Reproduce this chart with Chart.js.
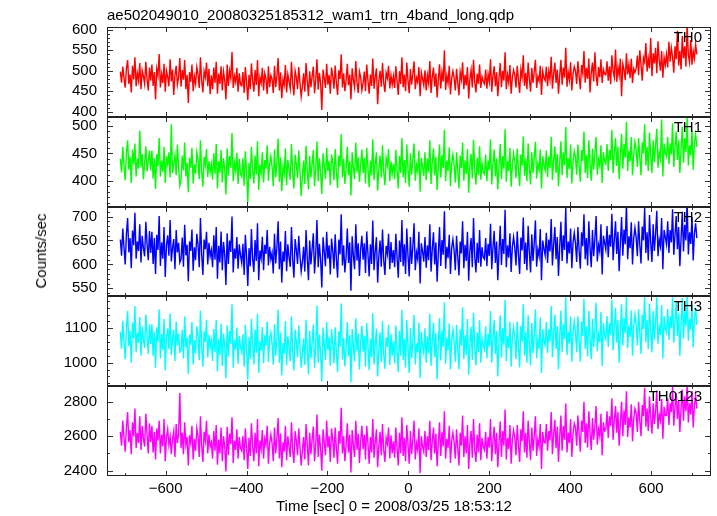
<!DOCTYPE html>
<html><head><meta charset="utf-8">
<script src="https://cdn.jsdelivr.net/npm/chart.js@4.4.0/dist/chart.umd.min.js"></script>
<style>
html,body{margin:0;padding:0;background:#fff;}
#wrap{position:relative;width:717px;height:516px;overflow:hidden;background:#fff;font-family:"Liberation Sans",Arial,sans-serif;color:#000;}
canvas{position:absolute;left:0;}
.txt{position:absolute;font-size:15px;line-height:18px;white-space:nowrap;z-index:5;}
#title{left:107px;top:6px;}
#xlab{left:276px;top:497px;}
#ylab{left:41px;top:251px;transform:translate(-50%,-50%) rotate(-90deg);}
</style></head><body>
<div id="wrap">
<div id="title" class="txt">ae502049010_20080325185312_wam1_trn_4band_long.qdp</div>
<div id="xlab" class="txt">Time [sec] 0 = 2008/03/25 18:53:12</div>
<div id="ylab" class="txt">Counts/sec</div>
</div>
<script>
// ---------------- DATA ----------------
const panelNames = ['TH0', 'TH1', 'TH2', 'TH3', 'TH0123'];
const timeStart = -712;   // first bin (sec)
const timeStep = 3;       // bin spacing (sec)

const th0 = [
498,471,510,482,459,505,526,468,491,447,512,479,533,462,494,476,519,455,501,487,468,522,480,452,508,
476,515,463,497,430,505,488,541,459,492,470,517,449,500,485,462,528,474,503,441,490,512,466,484,531,
461,502,478,526,455,490,421,497,473,515,450,486,468,509,492,458,533,476,447,499,484,520,462,505,443,
489,455,508,470,522,444,493,468,511,452,498,477,430,515,463,500,482,546,458,487,472,507,449,494,466,
463,497,446,509,472,428,490,455,518,476,449,502,465,526,438,484,470,507,452,494,481,443,511,460,489,
480,446,512,460,487,531,452,496,433,479,465,514,447,491,474,456,522,468,440,500,484,455,509,471,437,
462,494,449,519,476,438,499,460,486,510,445,479,528,454,495,470,404,503,482,458,517,466,490,444,508,
488,456,513,470,441,501,480,540,459,494,450,476,517,465,491,430,506,477,459,524,471,446,498,485,452,
469,498,450,515,477,444,491,463,530,456,485,506,418,475,500,461,519,470,448,495,482,512,457,489,466,
487,458,511,474,441,499,468,533,460,491,450,520,477,445,504,466,493,523,455,483,472,509,438,496,480,
464,501,452,490,470,524,446,485,508,461,494,435,479,516,457,497,474,550,453,488,470,512,442,481,499,
483,452,505,471,440,497,478,521,455,490,464,509,432,480,502,459,527,472,447,493,468,515,458,486,474,
468,503,456,492,473,528,449,487,511,462,496,438,482,519,460,500,476,545,455,490,471,514,444,484,502,
490,459,512,478,446,503,484,538,463,495,455,520,480,449,507,470,497,527,458,486,475,512,441,499,483,
476,510,462,499,479,534,456,493,520,470,503,444,488,527,466,508,483,556,461,497,477,521,452,492,510,
500,468,523,486,455,514,494,548,471,507,480,530,447,495,520,474,545,488,463,509,484,528,470,503,492,
490,523,476,511,467,538,499,484,552,473,509,488,530,438,517,503,477,543,491,515,482,529,470,505,496,
505,537,489,550,515,476,532,521,568,498,530,506,580,487,543,518,556,494,572,526,500,548,483,533,514,
540,508,571,522,556,535,495,560,528,598,513,549,503,585,531,560,510,612,538,520,575,515,548,530,565,
540
];
const th1 = [
440,415,462,428,401,451,474,420,444,396,457,430,468,408,441,422,492,425,449,403,433,463,417,436,455,
419,455,404,441,385,449,426,478,408,437,416,462,396,445,430,452,406,503,414,432,447,410,466,424,391,
401,446,419,470,408,433,379,442,424,460,395,430,413,452,437,403,474,417,389,444,428,458,407,436,415,
430,402,450,412,467,386,436,415,456,397,441,421,375,459,409,445,424,487,399,433,418,451,394,440,412,
407,441,391,454,416,360,433,403,462,419,395,446,411,472,383,429,414,452,397,438,422,465,400,431,445,
426,390,457,406,434,477,398,443,381,426,412,459,392,438,421,402,467,414,386,448,430,405,455,418,372,
410,437,394,464,420,384,445,406,430,456,390,423,472,399,441,415,376,450,427,403,460,418,436,392,448,
433,401,458,417,387,446,426,485,406,440,394,421,462,410,436,373,452,424,403,470,415,443,398,429,457,
414,442,395,460,424,388,437,410,476,401,430,452,382,421,446,406,465,416,392,441,428,458,399,435,412,
431,403,456,419,386,445,414,478,406,438,396,466,422,389,450,411,439,468,400,429,417,455,380,442,426,
409,452,401,441,415,474,394,434,459,410,444,383,426,466,406,447,423,493,399,437,418,461,390,431,448,
428,397,452,418,386,446,423,470,400,437,412,458,378,427,449,404,475,419,393,442,410,463,402,433,416,
412,448,399,437,420,476,393,431,457,408,441,384,426,467,403,445,422,494,398,436,417,460,389,430,450,
434,405,459,421,390,448,427,481,409,440,399,468,425,393,452,414,442,471,404,431,420,457,386,445,428,
419,455,407,444,423,480,401,437,463,414,449,390,432,472,410,452,428,498,405,441,421,466,395,435,454,
443,411,466,429,398,456,436,490,414,448,405,474,432,400,459,420,451,480,411,439,427,465,396,452,436,
431,467,418,456,437,493,414,451,478,427,462,403,445,486,422,467,442,508,418,455,435,480,410,449,471,
456,425,478,442,410,470,450,503,428,462,418,488,446,414,474,434,465,495,424,452,440,512,408,468,450,
444,480,430,468,448,505,425,461,490,438,474,414,457,499,433,478,452,516,428,465,446,492,420,470,485,
462
];
const th2 = [
652,618,675,636,600,664,697,625,655,592,671,640,708,612,648,628,684,604,660,634,617,689,643,609,670,
624,668,601,655,580,662,630,701,597,646,612,678,574,640,661,618,693,606,635,653,590,672,625,645,604,
611,656,595,683,619,641,565,648,628,673,587,636,609,664,642,594,697,621,578,652,632,668,600,645,617,
630,594,661,610,678,570,639,604,669,588,647,621,557,665,601,650,626,700,583,633,612,657,591,642,619,
603,643,578,662,617,555,634,596,674,611,584,651,607,686,567,629,613,658,588,641,622,672,598,637,611,
624,581,664,602,636,690,590,648,562,627,606,670,586,642,615,595,678,610,572,653,631,601,660,618,585,
605,637,585,672,614,567,650,600,632,665,581,623,693,594,643,610,552,657,627,596,668,612,640,579,654,
629,591,663,611,572,652,621,705,598,640,583,616,675,603,646,545,659,619,590,684,608,644,576,632,660,
610,644,582,669,623,575,642,601,692,588,628,657,562,618,650,595,673,609,578,639,622,664,590,647,603,
630,594,664,615,572,650,605,693,596,642,580,675,619,575,657,601,638,686,588,625,611,668,560,644,627,
606,657,593,640,609,684,585,632,667,600,646,564,624,678,597,651,620,711,591,637,613,662,580,634,652,
629,588,660,617,577,648,623,690,592,641,607,668,566,628,655,594,697,616,583,645,603,672,595,636,615,
611,655,596,643,618,685,590,635,670,603,648,567,627,681,599,653,622,714,594,640,614,665,584,637,657,
635,598,669,621,580,656,629,698,601,646,588,681,625,583,663,607,644,692,595,631,617,674,567,650,633,
619,666,603,652,627,695,598,642,678,611,657,576,636,689,607,661,630,719,602,648,623,675,592,646,666,
644,605,678,629,591,667,638,705,611,655,598,690,635,594,672,617,654,701,606,641,627,684,579,660,645,
631,680,615,662,637,706,609,652,690,622,668,586,645,699,618,673,642,728,611,659,634,688,600,655,676,
656,617,690,641,602,679,650,718,624,667,608,703,646,605,684,628,665,712,617,652,638,697,590,672,657,
642,690,624,672,646,715,620,661,701,632,678,596,654,710,627,683,650,732,621,667,643,699,608,664,686,
655
];
const th3 = [
1090,1040,1122,1063,1010,1101,1150,1048,1093,1000,1117,1070,1165,1030,1088,1057,1133,1020,1105,1068,1043,1140,1080,1025,1112,
1054,1112,1020,1090,985,1103,1061,1155,1012,1083,1036,1127,978,1072,1100,1040,1143,1022,1068,1096,1005,1120,1050,1085,1030,
1035,1095,1012,1134,1044,1073,968,1082,1052,1118,995,1066,1027,1106,1077,1007,1152,1048,988,1091,1060,1125,1015,1080,1043,
1064,1005,1098,1030,1124,975,1070,1022,1114,990,1085,1048,955,1109,1017,1093,1055,1170,986,1066,1038,1102,996,1078,1045,
1030,1083,988,1110,1042,950,1075,1010,1128,1049,995,1097,1028,1142,970,1062,1035,1104,998,1080,1050,1120,1002,1070,1088,
1056,994,1112,1020,1069,1153,1000,1088,963,1057,1026,1121,992,1077,1043,1004,1134,1032,977,1096,1060,1015,1108,1046,985,
1030,1070,993,1125,1041,966,1093,1012,1060,1111,985,1050,1166,1000,1082,1028,945,1102,1054,1007,1118,1036,1075,990,1098,
1058,998,1103,1031,972,1091,1046,1172,1009,1072,989,1040,1118,1018,1080,942,1098,1049,1003,1129,1033,1085,980,1062,1107,
1032,1078,988,1115,1051,978,1070,1015,1144,995,1054,1099,960,1037,1088,1002,1121,1025,982,1074,1046,1110,993,1083,1020,
1062,998,1108,1036,973,1093,1020,1153,1007,1070,986,1124,1047,970,1101,1012,1065,1139,995,1056,1030,1117,955,1090,1048,
1028,1100,1000,1076,1027,1142,990,1062,1117,1016,1086,952,1053,1130,1006,1094,1046,1176,997,1073,1035,1114,980,1066,1096,
1060,1003,1110,1042,980,1097,1049,1161,1010,1080,1022,1127,965,1055,1104,1008,1145,1040,992,1088,1030,1123,1000,1072,1050,
1038,1106,1012,1084,1047,1150,1000,1070,1125,1025,1092,960,1061,1138,1014,1100,1052,1182,1004,1078,1042,1119,988,1074,1103,
1072,1010,1120,1052,986,1108,1060,1170,1020,1090,1000,1138,1057,992,1115,1028,1080,1155,1012,1066,1040,1132,970,1098,1063,
1050,1118,1028,1097,1062,1165,1016,1083,1140,1040,1106,980,1074,1152,1030,1112,1068,1190,1022,1090,1056,1134,1003,1088,1120,
1089,1030,1135,1066,1003,1120,1077,1185,1040,1105,1018,1150,1072,1010,1128,1046,1098,1175,1033,1083,1060,1148,990,1115,1080,
1068,1136,1046,1115,1080,1183,1036,1101,1160,1058,1124,1000,1092,1170,1050,1130,1086,1192,1042,1108,1075,1152,1020,1106,1140,
1110,1050,1155,1086,1025,1140,1098,1194,1060,1125,1040,1172,1093,1030,1150,1066,1118,1190,1055,1103,1080,1168,1012,1135,1100,
1088,1156,1066,1135,1100,1190,1058,1121,1178,1077,1144,1020,1112,1188,1070,1150,1106,1196,1064,1128,1095,1170,1045,1125,1160,
1110
];
const th0123 = [
2625,2545,2690,2590,2510,2650,2740,2565,2635,2495,2680,2598,2760,2530,2620,2560,2715,2520,2660,2585,2540,2730,2610,2500,2675,
2565,2660,2505,2625,2465,2645,2575,2690,2500,2610,2540,2700,2455,2595,2640,2550,2600,2495,2585,2630,2480,2670,2560,2615,2850,
2530,2620,2495,2680,2550,2595,2430,2605,2560,2660,2465,2585,2515,2645,2600,2480,2715,2545,2450,2625,2575,2690,2500,2610,2540,
2565,2470,2630,2515,2665,2435,2580,2500,2650,2455,2600,2540,2395,2655,2490,2615,2555,2710,2445,2575,2520,2640,2470,2595,2530,
2515,2600,2460,2645,2535,2410,2590,2485,2675,2545,2455,2620,2500,2700,2425,2575,2525,2635,2470,2585,2550,2660,2440,2560,2610,
2560,2455,2650,2500,2590,2705,2470,2615,2420,2565,2510,2660,2460,2600,2540,2480,2680,2520,2445,2630,2575,2490,2645,2535,2430,
2520,2595,2465,2670,2555,2430,2620,2495,2580,2655,2455,2550,2725,2480,2610,2530,2400,2640,2565,2490,2690,2535,2600,2450,2645,
2580,2475,2650,2530,2440,2630,2555,2765,2500,2600,2455,2545,2675,2505,2610,2390,2635,2550,2480,2690,2520,2615,2445,2570,2660,
2525,2610,2465,2660,2560,2440,2595,2505,2700,2475,2565,2640,2420,2545,2625,2490,2670,2520,2450,2590,2555,2650,2470,2605,2500,
2570,2475,2650,2530,2430,2620,2500,2710,2485,2590,2455,2665,2555,2440,2630,2495,2580,2690,2465,2560,2520,2645,2385,2600,2540,
2510,2630,2480,2600,2520,2690,2460,2570,2650,2500,2615,2425,2560,2680,2485,2625,2540,2745,2470,2585,2530,2660,2445,2575,2620,
2565,2470,2640,2530,2430,2620,2545,2720,2480,2600,2500,2665,2410,2560,2630,2475,2700,2520,2450,2610,2505,2675,2460,2590,2540,
2520,2625,2470,2595,2535,2700,2455,2575,2655,2495,2620,2420,2560,2685,2480,2630,2545,2755,2465,2590,2525,2665,2440,2580,2635,
2590,2490,2665,2555,2450,2640,2570,2745,2505,2620,2475,2690,2570,2460,2650,2515,2600,2715,2485,2580,2540,2670,2410,2625,2565,
2560,2670,2515,2630,2575,2740,2495,2610,2695,2530,2655,2450,2595,2720,2515,2660,2580,2790,2505,2620,2560,2700,2480,2615,2675,
2650,2545,2720,2610,2510,2690,2625,2800,2560,2675,2535,2745,2620,2520,2705,2580,2655,2775,2550,2640,2600,2730,2490,2680,2630,
2640,2745,2590,2715,2660,2820,2580,2695,2775,2620,2740,2545,2680,2800,2600,2750,2665,2860,2595,2710,2650,2785,2570,2700,2760,
2735,2625,2800,2690,2600,2780,2715,2880,2655,2760,2630,2830,2705,2615,2790,2670,2745,2865,2640,2725,2690,2815,2585,2770,2720,
2720,2820,2665,2790,2740,2885,2660,2770,2850,2700,2810,2625,2760,2870,2690,2830,2745,2895,2680,2790,2725,2860,2650,2775,2835,
2760
];

// tick labels
const xTickLabels = [-600, -400, -200, 0, 200, 400, 600];
const xMinorTicks = [-700, -500, -300, -100, 100, 300, 500, 700];
const th0Ticks = [400, 450, 500, 550, 600];
const th1Ticks = [400, 450, 500];
const th2Ticks = [550, 600, 650, 700];
const th3Ticks = [1000, 1100];
const th0123Ticks = [2400, 2600, 2800];

// ---------------- LAYOUT / STYLE ----------------
const seriesList = [th0, th1, th2, th3, th0123];
const tickList = [th0Ticks, th1Ticks, th2Ticks, th3Ticks, th0123Ticks];
const colors = ['#ff0000', '#00ff00', '#0000ff', '#00ffff', '#ff00ff'];
const yRanges = [[387, 607], [352, 516.5], [534, 720], [932, 1194], [2369, 2891]];
const minorSteps = [10, 10, 10, 20, 100];
const panelTops = [27, 117, 207, 296, 386];
const panelBottoms = [117, 207, 296, 386, 476];
const PAD = 12;

Chart.defaults.font.family = '"Liberation Sans", Arial, sans-serif';
Chart.defaults.font.size = 15;
Chart.defaults.color = '#000';

const framePlugin = {
  id: 'panelFrame',
  afterDatasetsDraw(chart) {
    const o = chart.options.plugins.panelFrame;
    const ctx = chart.ctx, a = chart.chartArea;
    const xs = chart.scales.x, ys = chart.scales.y;
    ctx.save();
    ctx.lineWidth = 1;
    ctx.strokeStyle = '#333';
    ctx.beginPath();
    const xt = (v, len) => {
      const p = Math.round(xs.getPixelForValue(v)) + 0.5;
      ctx.moveTo(p, a.top); ctx.lineTo(p, a.top + len);
      ctx.moveTo(p, a.bottom); ctx.lineTo(p, a.bottom - len);
    };
    xTickLabels.forEach(v => xt(v, 5));
    xMinorTicks.forEach(v => xt(v, 3));
    const step = o.minor;
    for (let v = Math.ceil(ys.min / step) * step; v <= ys.max; v += step) {
      const p = Math.round(ys.getPixelForValue(v)) + 0.5;
      const len = o.majors.includes(v) ? 6 : 3;
      ctx.moveTo(a.left, p); ctx.lineTo(a.left + len, p);
      ctx.moveTo(a.right, p); ctx.lineTo(a.right - len, p);
    }
    ctx.stroke();
    ctx.strokeStyle = '#222';
    ctx.strokeRect(a.left + 0.5, a.top + 0.5, a.right - a.left - 1, a.bottom - a.top - 1);
    ctx.fillStyle = '#000';
    ctx.font = '15px "Liberation Sans", Arial, sans-serif';
    ctx.textAlign = 'right';
    ctx.textBaseline = 'middle';
    ctx.fillText(o.name, 702, a.top + 10.5);
    ctx.restore();
  }
};

const wrap = document.getElementById('wrap');
seriesList.forEach((vals, i) => {
  const isLast = i === seriesList.length - 1;
  const top = panelTops[i] - PAD;
  const h = isLast ? (516 - top) : (panelBottoms[i] - panelTops[i] + 2 * PAD);
  const cv = document.createElement('canvas');
  cv.width = 717; cv.height = h;
  cv.style.top = top + 'px';
  cv.style.width = '717px'; cv.style.height = h + 'px';
  wrap.appendChild(cv);
  const pts = vals.map((v, k) => ({ x: timeStart + k * timeStep, y: v }));
  const ticksArr = tickList[i];
  new Chart(cv, {
    type: 'line',
    data: { datasets: [{ data: pts, borderColor: colors[i], borderWidth: 1.4, pointRadius: 0, tension: 0, fill: false }] },
    options: {
      responsive: false, maintainAspectRatio: false, animation: false, devicePixelRatio: 1, parsing: false,
      layout: { autoPadding: false, padding: { left: 0, right: 6, top: PAD, bottom: isLast ? 0 : PAD } },
      plugins: {
        legend: { display: false }, tooltip: { enabled: false }, title: { display: false },
        panelFrame: { name: panelNames[i], minor: minorSteps[i], majors: ticksArr }
      },
      scales: {
        x: {
          type: 'linear', min: -745, max: 748, display: isLast,
          grid: { display: false, drawTicks: false }, border: { display: false },
          afterBuildTicks: s => { s.ticks = xTickLabels.map(v => ({ value: v })); },
          afterFit: s => { if (isLast) s.height = 40; s.paddingLeft = 0; s.paddingRight = 0; s.paddingTop = 0; s.paddingBottom = 0; },
          ticks: { autoSkip: false, maxRotation: 0, padding: 4, color: '#000', font: { size: 15 },
                   callback: v => String(v).replace('-', '\u2212') }
        },
        y: {
          type: 'linear', min: yRanges[i][0], max: yRanges[i][1], position: 'left',
          grid: { display: false, drawTicks: false }, border: { display: false },
          afterBuildTicks: s => { s.ticks = ticksArr.map(v => ({ value: v })); },
          afterFit: s => { s.width = 107; s.paddingTop = 0; s.paddingBottom = 0; s.paddingLeft = 0; s.paddingRight = 0; },
          ticks: { autoSkip: false, padding: 10, color: '#000', font: { size: 15 },
                   callback: v => String(v) }
        }
      }
    },
    plugins: [framePlugin]
  });
});
</script>
</body></html>
